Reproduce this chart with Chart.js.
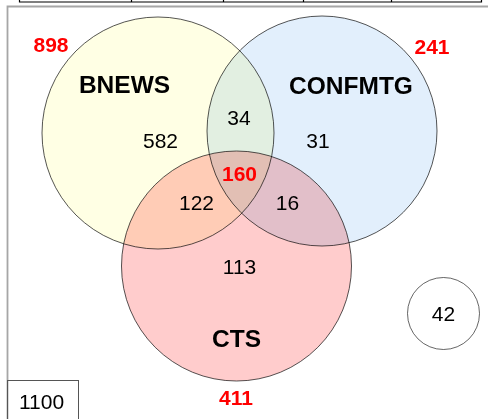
<!DOCTYPE html>
<html>
<head>
<meta charset="utf-8">
<script src="https://cdn.jsdelivr.net/npm/chart.js@4"></script>
<style>
html,body{margin:0;padding:0;background:#fff;}
#wrap{width:488px;height:419px;position:relative;}
</style>
</head>
<body>
<div id="wrap"><canvas id="c"></canvas></div>
<script>
// ---- data ----
const setNames = ['BNEWS', 'CONFMTG', 'CTS'];
const setTotals = [898, 241, 411];
const regionNames = ['BNEWS only', 'CONFMTG only', 'CTS only', 'BNEWS+CONFMTG', 'BNEWS+CTS', 'CONFMTG+CTS', 'all three'];
const regionCounts = [582, 31, 113, 34, 122, 16, 160];
const noneCount = 42;
const universeCount = 1100;

// ---- layout (diagram coordinates) ----
const setLayout = [
  {x: 158, y: 133, r: 116, fill: '#FFFFE4', labelX: 124.5, labelY: 84.5, totalX: 51, totalY: 44.5},
  {x: 322, y: 131, r: 115, fill: '#E2EFFC', labelX: 351, labelY: 85.5, totalX: 432, totalY: 46.5},
  {x: 236.5, y: 266, r: 115, fill: '#FFCCCC', labelX: 236.5, labelY: 338, totalX: 236, totalY: 397}
];
const regionLayout = [
  {x: 160.5, y: 140}, {x: 318, y: 140}, {x: 239.5, y: 266},
  {x: 239, y: 117.5}, {x: 196.5, y: 202}, {x: 287.5, y: 202}, {x: 239.5, y: 173.5}
];
const noneLayout = {x: 443.5, y: 313.5, r: 36};
const universeLayout = {x: 41.5, y: 401.5};

const bubbles = setLayout.map(l => ({x: l.x, y: l.y, r: l.r}));
bubbles.push({x: noneLayout.x, y: noneLayout.y, r: noneLayout.r});
const fills = setLayout.map(l => l.fill).concat(['#FFFFFF']);
const strokes = ['#555555', '#555555', '#555555', '#666666'];

function txt(ctx, s, x, y, size, bold, color) {
  ctx.font = (bold ? 'bold ' : '') + size + 'px "Liberation Sans", Arial, sans-serif';
  ctx.fillStyle = color;
  ctx.textAlign = 'center';
  ctx.textBaseline = 'alphabetic';
  ctx.fillText(s, x, y + 0.358 * size);
}

const vennPlugin = {
  id: 'venn',
  beforeDraw(chart) {
    const ctx = chart.ctx;
    ctx.save();
    ctx.fillStyle = '#fff';
    ctx.fillRect(0, 0, chart.width, chart.height);
    // partial table at top
    ctx.strokeStyle = '#000';
    ctx.lineWidth = 1.2;
    ctx.beginPath();
    ctx.moveTo(19, 2); ctx.lineTo(481, 2);
    [19, 131, 223, 303, 391, 481].forEach(x => { ctx.moveTo(x + 0.5, 0); ctx.lineTo(x + 0.5, 2.5); });
    ctx.stroke();
    // frame
    ctx.strokeStyle = '#A6A6A6';
    ctx.lineWidth = 1.8;
    ctx.beginPath();
    ctx.moveTo(7.5, 419); ctx.lineTo(7.5, 6.5); ctx.lineTo(488, 6.5);
    ctx.stroke();
    ctx.restore();
  },
  beforeDatasetsDraw(chart) {
    chart.ctx.save();
    chart.ctx.globalCompositeOperation = 'multiply';
  },
  afterDatasetsDraw(chart) {
    const ctx = chart.ctx;
    ctx.restore();
    const sx = chart.scales.x, sy = chart.scales.y;
    const X = v => sx.getPixelForValue(v), Y = v => sy.getPixelForValue(v);
    ctx.save();
    setLayout.forEach((l, i) => {
      txt(ctx, setNames[i], X(l.labelX), Y(l.labelY), 24.5, true, '#000');
      txt(ctx, String(setTotals[i]), X(l.totalX), Y(l.totalY), 21, true, '#FF0000');
    });
    regionLayout.forEach((l, i) => {
      const isAll = i === 6;
      txt(ctx, String(regionCounts[i]), X(l.x), Y(l.y), 21, isAll, isAll ? '#FF0000' : '#000');
    });
    txt(ctx, String(noneCount), X(noneLayout.x), Y(noneLayout.y), 21, false, '#000');
    // universe box
    ctx.strokeStyle = '#555';
    ctx.lineWidth = 1;
    ctx.strokeRect(7.5, 380.5, 71, 45);
    txt(ctx, String(universeCount), X(universeLayout.x), Y(universeLayout.y), 21, false, '#000');
    ctx.restore();
  }
};

new Chart(document.getElementById('c'), {
  type: 'bubble',
  data: {
    datasets: [{
      data: bubbles,
      backgroundColor: fills,
      borderColor: strokes,
      borderWidth: 1,
      hoverBorderWidth: 1,
      clip: false
    }]
  },
  options: {
    responsive: true,
    maintainAspectRatio: false,
    animation: false,
    events: [],
    layout: {padding: 0, autoPadding: false},
    plugins: {legend: {display: false}, tooltip: {enabled: false}},
    scales: {
      x: {type: 'linear', display: false, min: 0, max: 488},
      y: {type: 'linear', display: false, min: 0, max: 419, reverse: true}
    }
  },
  plugins: [vennPlugin]
});
</script>
</body>
</html>
